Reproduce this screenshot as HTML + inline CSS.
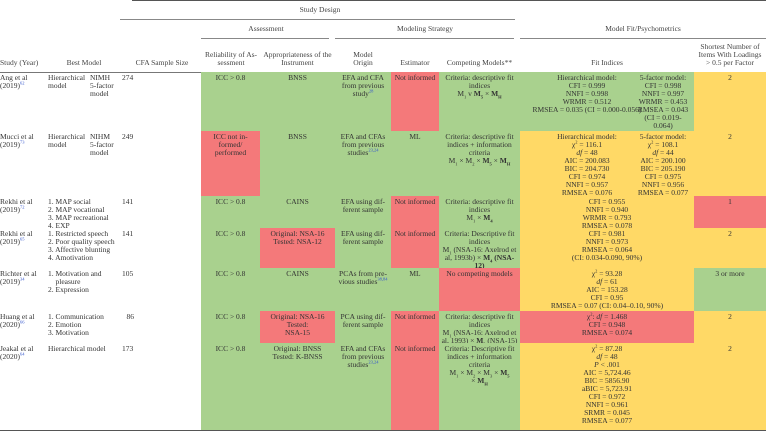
<!DOCTYPE html>
<html><head><meta charset="utf-8">
<style>
body{margin:0;background:#fff;}
#t{position:relative;width:766px;height:431px;overflow:hidden;font-family:"Liberation Serif",serif;font-size:7.5px;line-height:8px;color:#333;}
.c{position:absolute;box-sizing:border-box;text-align:center;padding-top:2px;}
.l{text-align:left;}
.g{background:#a9d18e}.r{background:#f4797a}.y{background:#ffd966}
.h{position:absolute;text-align:center;color:#444;}
.ln{position:absolute;height:1px;background:#888;}
sup{font-size:4.5px;color:#3355cc;line-height:0;}
sub{font-size:4.5px;line-height:0;}
</style></head><body>
<div id="t">
<div class="ln" style="left:132px;top:0;width:634px;background:#555"></div>
<div class="h" style="left:120px;top:6px;width:400px">Study Design</div>
<div class="ln" style="left:120px;top:19px;width:395px"></div>
<div class="h" style="left:201px;top:25px;width:130px">Assessment</div>
<div class="h" style="left:335px;top:25px;width:180px">Modeling Strategy</div>
<div class="h" style="left:520px;top:25px;width:246px">Model Fit/Psychometrics</div>
<div class="ln" style="left:201px;top:38px;width:128px"></div>
<div class="ln" style="left:335px;top:38px;width:179px"></div>
<div class="ln" style="left:520px;top:38px;width:246px"></div>

<div class="h" style="left:0;top:59px;text-align:left">Study (Year)</div>
<div class="h" style="left:48px;top:59px;width:72px">Best Model</div>
<div class="h" style="left:122px;top:59px;width:80px">CFA Sample Size</div>
<div class="h" style="left:201px;top:51px;width:60px">Reliability of As-<br>sessment</div>
<div class="h" style="left:260px;top:51px;width:75px">Appropriateness of the<br>Instrument</div>
<div class="h" style="left:335px;top:51px;width:56px">Model<br>Origin</div>
<div class="h" style="left:391px;top:59px;width:48px">Estimator</div>
<div class="h" style="left:439px;top:59px;width:81px">Competing Models**</div>
<div class="h" style="left:520px;top:59px;width:174px">Fit Indices</div>
<div class="h" style="left:694px;top:43px;width:72px">Shortest Number of<br>Items With Loadings<br>&gt; 0.5 per Factor</div>
<div class="ln" style="left:0;top:72px;width:766px;background:#777"></div>

<!-- Row 1 Ang -->
<div class="c l" style="left:0;top:72px;width:48px">Ang et al<br>(2019)<sup>62</sup></div>
<div class="c l" style="left:48px;top:72px;width:42px">Hierarchical<br>model</div>
<div class="c l" style="left:90px;top:72px;width:32px">NIMH<br>5-factor<br>model</div>
<div class="c l" style="left:122px;top:72px;width:40px">274</div>
<div class="c g" style="left:201px;top:72px;width:59px;height:59px">ICC &gt; 0.8</div>
<div class="c g" style="left:260px;top:72px;width:75px;height:59px">BNSS</div>
<div class="c g" style="left:335px;top:72px;width:56px;height:59px">EFA and CFA<br>from previous<br>study<sup>28</sup></div>
<div class="c r" style="left:391px;top:72px;width:48px;height:59px">Not informed</div>
<div class="c g" style="left:439px;top:72px;width:81px;height:59px">Criteria: descriptive fit<br>indices<br>M<sub>1</sub> v <b>M<sub>5</sub></b> × <b>M<sub>H</sub></b></div>
<div class="c g" style="left:520px;top:72px;width:174px;height:59px"></div>
<div class="c" style="left:520px;top:72px;width:134px">Hierarchical model:<br>CFI = 0.999<br>NNFI = 0.998<br>WRMR = 0.512<br>RMSEA = 0.035 (CI = 0.000-0.056)</div>
<div class="c" style="left:634px;top:72px;width:58px">5-factor model:<br>CFI = 0.998<br>NNFI = 0.997<br>WRMR = 0.453<br>RMSEA = 0.043<br>(CI = 0.019-<br>0.064)</div>
<div class="c y" style="left:694px;top:72px;width:72px;height:59px">2</div>

<!-- Row 2 Mucci -->
<div class="c l" style="left:0;top:131px;width:48px">Mucci et al<br>(2019)<sup>73</sup></div>
<div class="c l" style="left:48px;top:131px;width:42px">Hierarchical<br>model</div>
<div class="c l" style="left:90px;top:131px;width:32px">NIHM<br>5-factor<br>model</div>
<div class="c l" style="left:122px;top:131px;width:40px">249</div>
<div class="c r" style="left:201px;top:131px;width:59px;height:65px">ICC not in-<br>formed/<br>performed</div>
<div class="c g" style="left:260px;top:131px;width:75px;height:65px">BNSS</div>
<div class="c g" style="left:335px;top:131px;width:56px;height:65px">EFA and CFAs<br>from previous<br>studies<sup>23,24</sup></div>
<div class="c g" style="left:391px;top:131px;width:48px;height:65px">ML</div>
<div class="c g" style="left:439px;top:131px;width:81px;height:65px">Criteria: descriptive fit<br>indices + information<br>criteria<br>M<sub>1</sub> × M<sub>2</sub> × <b>M<sub>5</sub></b> × <b>M<sub>H</sub></b></div>
<div class="c y" style="left:520px;top:131px;width:174px;height:65px"></div>
<div class="c" style="left:520px;top:131px;width:134px">Hierarchical model:<br>χ<sup style="color:#333">2</sup> = 116.1<br><i>df</i> = 48<br>AIC = 200.083<br>BIC = 204.730<br>CFI = 0.974<br>NNFI = 0.957<br>RMSEA = 0.076</div>
<div class="c" style="left:634px;top:131px;width:58px">5-factor model:<br>χ<sup style="color:#333">2</sup> = 108.1<br><i>df</i> = 44<br>AIC = 200.100<br>BIC = 205.190<br>CFI = 0.975<br>NNFI = 0.956<br>RMSEA = 0.077</div>
<div class="c y" style="left:694px;top:131px;width:72px;height:65px">2</div>

<!-- Row 3 Rekhi a -->
<div class="c l" style="left:0;top:196px;width:48px">Rekhi et al<br>(2019)<sup>72</sup></div>
<div class="c l" style="left:48px;top:196px;width:74px">1. MAP social<br>2. MAP vocational<br>3. MAP recreational<br>4. EXP</div>
<div class="c l" style="left:122px;top:196px;width:40px">141</div>
<div class="c g" style="left:201px;top:196px;width:59px;height:32px">ICC &gt; 0.8</div>
<div class="c g" style="left:260px;top:196px;width:75px;height:32px">CAINS</div>
<div class="c g" style="left:335px;top:196px;width:56px;height:32px">EFA using dif-<br>ferent sample</div>
<div class="c r" style="left:391px;top:196px;width:48px;height:32px">Not informed</div>
<div class="c g" style="left:439px;top:196px;width:81px;height:32px">Criteria: descriptive fit<br>indices<br>M<sub>1</sub> × <b>M<sub>4</sub></b></div>
<div class="c y" style="left:520px;top:196px;width:174px;height:32px">CFI = 0.955<br>NNFI = 0.940<br>WRMR = 0.793<br>RMSEA = 0.078</div>
<div class="c r" style="left:694px;top:196px;width:72px;height:32px">1</div>

<!-- Row 4 Rekhi b -->
<div class="c l" style="left:0;top:228px;width:48px">Rekhi et al<br>(2019)<sup>65</sup></div>
<div class="c l" style="left:48px;top:228px;width:74px">1. Restricted speech<br>2. Poor quality speech<br>3. Affective blunting<br>4. Amotivation</div>
<div class="c l" style="left:122px;top:228px;width:40px">141</div>
<div class="c g" style="left:201px;top:228px;width:59px;height:40px">ICC &gt; 0.8</div>
<div class="c r" style="left:260px;top:228px;width:75px;height:40px">Original: NSA-16<br>Tested: NSA-12</div>
<div class="c g" style="left:335px;top:228px;width:56px;height:40px">EFA using dif-<br>ferent sample</div>
<div class="c r" style="left:391px;top:228px;width:48px;height:40px">Not informed</div>
<div class="c g" style="left:439px;top:228px;width:81px;height:40px">Criteria: Descriptive fit<br>indices<br>M<sub>1</sub> (NSA-16: Axelrod et<br>al, 1993b) × <b>M<sub>4</sub> (NSA-<br>12)</b></div>
<div class="c y" style="left:520px;top:228px;width:174px;height:40px">CFI = 0.981<br>NNFI = 0.973<br>RMSEA = 0.064<br>(CI: 0.034-0.090, 90%)</div>
<div class="c y" style="left:694px;top:228px;width:72px;height:40px">2</div>

<!-- Row 5 Richter -->
<div class="c l" style="left:0;top:268px;width:48px">Richter et al<br>(2019)<sup>34</sup></div>
<div class="c l" style="left:48px;top:268px;width:74px">1. Motivation and<br>&nbsp;&nbsp;&nbsp;&nbsp;pleasure<br>2. Expression</div>
<div class="c l" style="left:122px;top:268px;width:40px">105</div>
<div class="c g" style="left:201px;top:268px;width:59px;height:43px">ICC &gt; 0.8</div>
<div class="c g" style="left:260px;top:268px;width:75px;height:43px">CAINS</div>
<div class="c g" style="left:335px;top:268px;width:56px;height:43px">PCAs from pre-<br>vious studies<sup>38,84</sup></div>
<div class="c g" style="left:391px;top:268px;width:48px;height:43px">ML</div>
<div class="c r" style="left:439px;top:268px;width:81px;height:43px">No competing models</div>
<div class="c y" style="left:520px;top:268px;width:174px;height:43px">χ<sup style="color:#333">2</sup> = 93.28<br><i>df</i> = 61<br>AIC = 153.28<br>CFI = 0.95<br>RMSEA = 0.07 (CI: 0.04–0.10, 90%)</div>
<div class="c g" style="left:694px;top:268px;width:72px;height:43px">3 or more</div>

<!-- Row 6 Huang -->
<div class="c l" style="left:0;top:311px;width:48px">Huang et al<br>(2020)<sup>66</sup></div>
<div class="c l" style="left:48px;top:311px;width:74px">1. Communication<br>2. Emotion<br>3. Motivation</div>
<div class="c" style="left:122px;top:311px;width:12px;text-align:right">86</div>
<div class="c g" style="left:201px;top:311px;width:59px;height:32px">ICC &gt; 0.8</div>
<div class="c r" style="left:260px;top:311px;width:75px;height:32px">Original: NSA-16<br>Tested:<br>NSA-15</div>
<div class="c g" style="left:335px;top:311px;width:56px;height:32px">PCA using dif-<br>ferent sample</div>
<div class="c r" style="left:391px;top:311px;width:48px;height:32px">Not informed</div>
<div class="c g" style="left:439px;top:311px;width:81px;height:32px">Criteria: descriptive fit<br>indices<br>M<sub>1</sub> (NSA-16: Axelrod et<br>al, 1993) × <b>M<sub>3</sub></b> (NSA-15)</div>
<div class="c r" style="left:520px;top:311px;width:174px;height:32px">χ<sup style="color:#333">2</sup>: <i>df</i> = 1.468<br>CFI = 0.948<br>RMSEA = 0.074</div>
<div class="c y" style="left:694px;top:311px;width:72px;height:32px">2</div>

<!-- Row 7 Jeakal -->
<div class="c l" style="left:0;top:343px;width:48px">Jeakal et al<br>(2020)<sup>64</sup></div>
<div class="c l" style="left:48px;top:343px;width:74px">Hierarchical model</div>
<div class="c l" style="left:122px;top:343px;width:40px">173</div>
<div class="c g" style="left:201px;top:343px;width:59px;height:87px">ICC &gt; 0.8</div>
<div class="c g" style="left:260px;top:343px;width:75px;height:87px">Original: BNSS<br>Tested: K-BNSS</div>
<div class="c g" style="left:335px;top:343px;width:56px;height:87px">EFA and CFAs<br>from previous<br>studies<sup>23,24</sup></div>
<div class="c r" style="left:391px;top:343px;width:48px;height:87px">Not informed</div>
<div class="c g" style="left:439px;top:343px;width:81px;height:87px">Criteria: Descriptive fit<br>indices + information<br>criteria<br>M<sub>1</sub> × M<sub>2</sub> × M<sub>3</sub> × <b>M<sub>5</sub></b><br>× <b>M<sub>H</sub></b></div>
<div class="c y" style="left:520px;top:343px;width:174px;height:87px">χ<sup style="color:#333">2</sup> = 87.28<br><i>df</i> = 48<br><i>P</i> &lt; .001<br>AIC = 5,724.46<br>BIC = 5856.90<br>aBIC = 5,723.91<br>CFI = 0.972<br>NNFI = 0.961<br>SRMR = 0.045<br>RMSEA = 0.077</div>
<div class="c y" style="left:694px;top:343px;width:72px;height:87px">2</div>
<div class="ln" style="left:0;top:430px;width:766px;background:#555"></div>
</div>
</body></html>
